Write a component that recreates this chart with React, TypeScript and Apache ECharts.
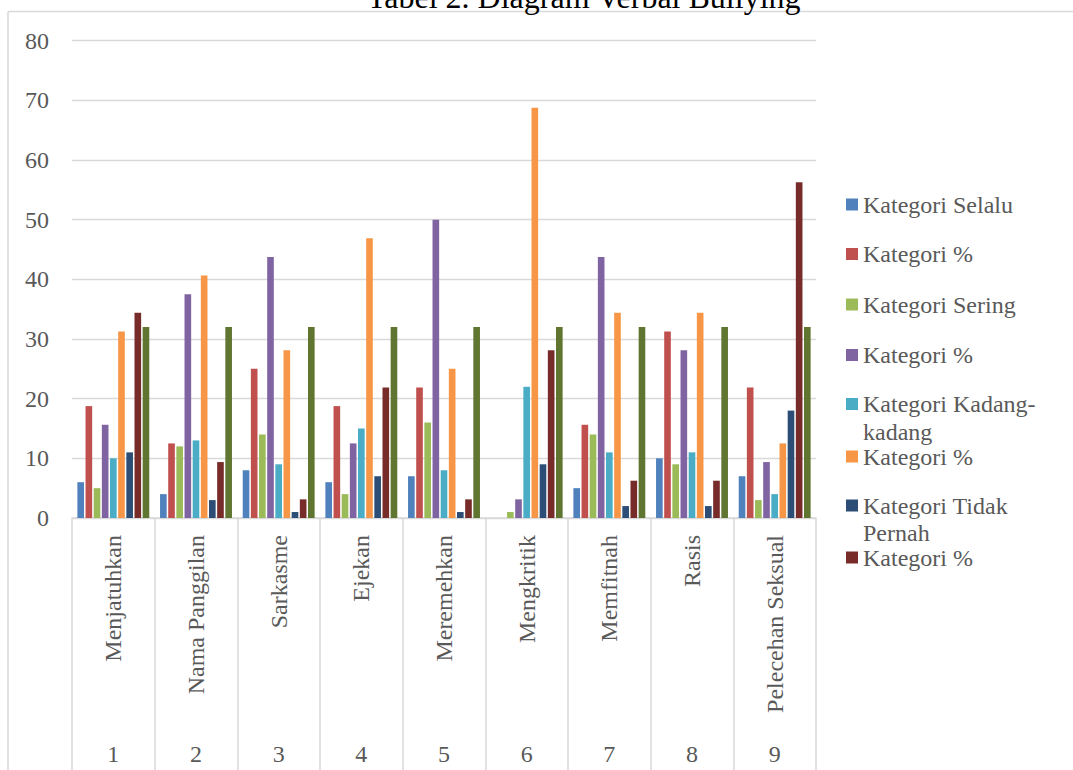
import React, { useEffect, useRef } from "react";
import * as echarts from "echarts";

const categories = [
  "Menjatuhkan",
  "Nama Panggilan",
  "Sarkasme",
  "Ejekan",
  "Meremehkan",
  "Mengkritik",
  "Memfitnah",
  "Rasis",
  "Pelecehan Seksual",
];
const groupNumbers = ["1", "2", "3", "4", "5", "6", "7", "8", "9"];

const selalu = [6, 4, 8, 6, 7, 0, 5, 10, 7];
const selaluPct = [18.75, 12.5, 25, 18.75, 21.875, 0, 15.625, 31.25, 21.875];
const sering = [5, 12, 14, 4, 16, 1, 14, 9, 3];
const seringPct = [15.625, 37.5, 43.75, 12.5, 50, 3.125, 43.75, 28.125, 9.375];
const kadang = [10, 13, 9, 15, 8, 22, 11, 11, 4];
const kadangPct = [31.25, 40.625, 28.125, 46.875, 25, 68.75, 34.375, 34.375, 12.5];
const tidakPernah = [11, 3, 1, 7, 1, 9, 2, 2, 18];
const tidakPernahPct = [34.375, 9.375, 3.125, 21.875, 3.125, 28.125, 6.25, 6.25, 56.25];
const total = [32, 32, 32, 32, 32, 32, 32, 32, 32];

const yTicks = { min: 0, max: 80, interval: 10 };

const seriesDefs = [
  { name: "Kategori Selalu", label: "Kategori Selalu", data: selalu, color: "#4F81BD" },
  { name: "Kategori % (Selalu)", label: "Kategori %", data: selaluPct, color: "#C0504D" },
  { name: "Kategori Sering", label: "Kategori Sering", data: sering, color: "#9BBB59" },
  { name: "Kategori % (Sering)", label: "Kategori %", data: seringPct, color: "#8064A2" },
  { name: "Kategori Kadang-kadang", label: "Kategori Kadang-\nkadang", data: kadang, color: "#4BACC6" },
  { name: "Kategori % (Kadang-kadang)", label: "Kategori %", data: kadangPct, color: "#F79646" },
  { name: "Kategori Tidak Pernah", label: "Kategori Tidak\nPernah", data: tidakPernah, color: "#2C4D75" },
  { name: "Kategori % (Tidak Pernah)", label: "Kategori %", data: tidakPernahPct, color: "#772C2A" },
  { name: "Jumlah", label: "", data: total, color: "#5F7530" },
];

const legendCenters = [203.5, 253, 303.5, 354, 404, 455.5, 505.5, 556.5];

const FONT = "'Liberation Serif', serif";
const GREY = "#595959";
const LINE = "#d9d9d9";

export default function App() {
  const ref = useRef<HTMLDivElement>(null);

  useEffect(() => {
    if (!ref.current) return;
    const chart = echarts.init(ref.current, null, { renderer: "svg" });
    const LH1 = 22;
    const LH2 = 27.5;

    const legends = seriesDefs.slice(0, 8).map((s, i) => {
      const twoLine = s.label.includes("\n");
      const shown = twoLine ? " \n" + s.label : s.label;
      const lh = twoLine ? LH2 : LH1;
      const ts = { fontFamily: FONT, fontSize: 24, color: GREY, lineHeight: lh };
      return {
        show: true,
        orient: "vertical",
        left: 846,
        top: twoLine ? legendCenters[i] - 1.5 * lh : legendCenters[i] - lh / 2,
        padding: 0,
        icon: "rect",
        itemWidth: 12,
        itemHeight: 12,
        selectedMode: false,
        formatter: () => shown,
        textStyle: ts,
        data: [{ name: s.name, textStyle: ts }],
      };
    });

    chart.setOption({
      animation: false,
      backgroundColor: "#ffffff",
      textStyle: { fontFamily: FONT },
      title: {
        text: "Tabel 2. Diagram Verbal Bullying",
        left: 367,
        top: -19,
        padding: 0,
        textStyle: {
          fontFamily: FONT,
          fontSize: 32,
          fontWeight: "normal",
          color: "#000000",
        },
      },
      legend: legends,
      grid: { left: 72, right: 257, top: 40.6, bottom: 252, containLabel: false },
      xAxis: [
        {
          type: "category",
          data: categories,
          position: "bottom",
          axisLine: { show: true, lineStyle: { color: LINE, width: 1.5 } },
          axisTick: { show: true, length: 260, interval: 0, lineStyle: { color: LINE, width: 1.5 } },
          axisLabel: {
            rotate: 90,
            interval: 0,
            margin: 17,
            fontFamily: FONT,
            fontSize: 24,
            color: GREY,
          },
        },
        {
          type: "category",
          data: groupNumbers,
          position: "bottom",
          offset: 216,
          axisLine: { show: false },
          axisTick: { show: false },
          axisLabel: {
            interval: 0,
            margin: 8,
            fontFamily: FONT,
            fontSize: 24,
            color: GREY,
          },
        },
      ],
      yAxis: {
        type: "value",
        min: yTicks.min,
        max: yTicks.max,
        interval: yTicks.interval,
        axisLine: { show: false },
        axisTick: { show: false },
        splitLine: { show: true, lineStyle: { color: LINE, width: 1.3 } },
        axisLabel: { margin: 23, fontFamily: FONT, fontSize: 24, color: GREY },
      },
      graphic: [
        {
          type: "line",
          silent: true,
          shape: { x1: 8, y1: 11.5, x2: 1073, y2: 11.5 },
          style: { stroke: LINE, lineWidth: 1.5 },
        },
        {
          type: "line",
          silent: true,
          shape: { x1: 8, y1: 11.5, x2: 8, y2: 770 },
          style: { stroke: LINE, lineWidth: 1.5 },
        },
      ],
      series: seriesDefs.map((s) => ({
        name: s.name,
        type: "bar",
        xAxisIndex: 0,
        data: s.data,
        barGap: "23%",
        barCategoryGap: "13%",
        itemStyle: { color: s.color },
      })),
    });

    return () => chart.dispose();
  }, []);

  return (
    <div
      ref={ref}
      style={{ position: "fixed", left: 0, top: 0, width: 1073, height: 770, background: "#fff" }}
    />
  );
}
